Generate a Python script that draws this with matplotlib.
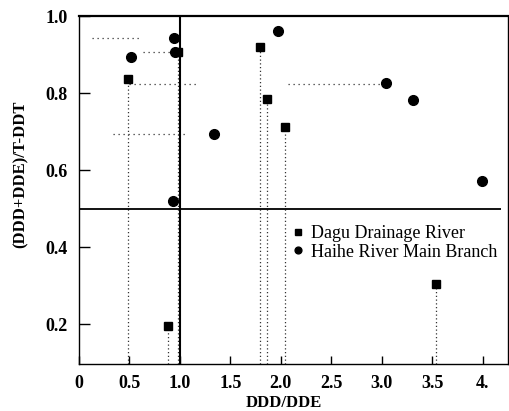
import matplotlib
matplotlib.use('Agg')
import matplotlib.pyplot as plt

# Dagu Drainage River (squares)
dagu_x = [0.49, 0.88, 0.98, 1.79, 1.86, 2.04, 3.54]
dagu_y = [0.836, 0.195, 0.906, 0.919, 0.784, 0.712, 0.304]

# Haihe River Main Branch (circles)
haihe_x = [0.52, 0.94, 0.955, 0.93, 1.34, 1.97, 3.04, 3.31, 3.99]
haihe_y = [0.894, 0.943, 0.906, 0.52, 0.694, 0.961, 0.826, 0.782, 0.571]

# horizontal dotted guides
guide_y = [0.943, 0.906, 0.824, 0.824, 0.694]
guide_x0 = [0.13, 0.63, 0.50, 2.07, 0.34]
guide_x1 = [0.60, 0.96, 1.18, 3.02, 1.05]

xticks = [0, 0.5, 1.0, 1.5, 2.0, 2.5, 3.0, 3.5, 4.0]
xticklabels = ['0', '0.5', '1.0', '1.5', '2.0', '2.5', '3.0', '3.5', '4.']
yticks = [0.2, 0.4, 0.6, 0.8, 1.0]
yticklabels = ['0.2', '0.4', '0.6', '0.8', '1.0']

plt.rcParams['font.family'] = ['Liberation Serif', 'DejaVu Serif']

fig = plt.figure(figsize=(5.09, 4.11), dpi=100)
ax = fig.add_axes([0.155, 0.114, 0.843, 0.847])

ymin, ymax = 0.096, 1.0
ax.set_xlim(0, 4.25)
ax.set_ylim(ymin, ymax)

# linhas de referencia
ax.axvline(1.0, color='k', lw=1.5, zorder=2)
ax.hlines(0.5, 0, 4.18, color='k', lw=1.3, zorder=2)

# guias pontilhadas
ax.vlines(dagu_x, ymin, dagu_y, colors='#333333', lw=0.9,
          linestyles=(0, (1, 2)), zorder=1)
ax.hlines(guide_y, guide_x0, guide_x1, colors='#333333', lw=0.9,
          linestyles=(0, (1, 3)), zorder=1)

ax.plot(dagu_x, dagu_y, 's', color='k', ms=6, ls='none', zorder=3,
        label='Dagu Drainage River')
ax.plot(haihe_x, haihe_y, 'o', color='k', ms=7, ls='none', zorder=3,
        label='Haihe River Main Branch')

ax.set_xticks(xticks)
ax.set_xticklabels(xticklabels)
ax.set_yticks(yticks)
ax.set_yticklabels(yticklabels)
ax.tick_params(axis='x', direction='in', length=6, width=1, pad=8,
               labelsize=13)
ax.tick_params(axis='y', direction='in', length=8, width=1, pad=8,
               labelsize=13)
for lab in ax.get_xticklabels() + ax.get_yticklabels():
    lab.set_fontweight('bold')

for sp in ax.spines.values():
    sp.set_linewidth(1.0)
ax.spines['top'].set_linewidth(1.6)

ax.set_xlabel('DDD/DDE', fontsize=12, fontweight='bold')
ax.set_ylabel('(DDD+DDE)/T-DDT', fontsize=12, fontweight='bold')
ax.xaxis.set_label_coords(0.478, -0.09)
ax.yaxis.set_label_coords(-0.118, 0.546)

ax.legend(loc='upper left', bbox_to_anchor=(0.5, 0.4), frameon=False,
          handlelength=0.5, handletextpad=0.5, borderaxespad=0, borderpad=0,
          labelspacing=0.1, markerscale=0.7, prop={'size': 13})

fig.savefig('out.png', dpi=100)
